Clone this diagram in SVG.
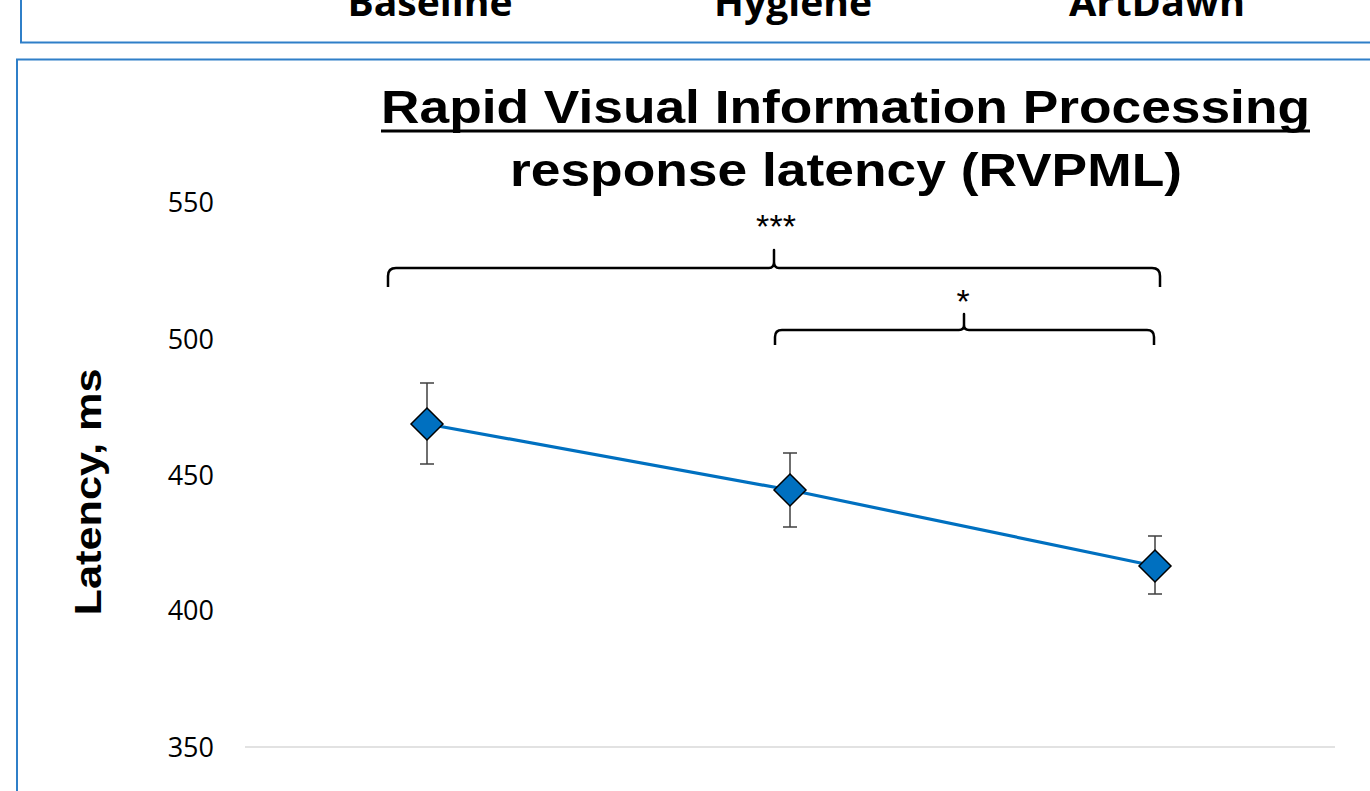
<svg xmlns="http://www.w3.org/2000/svg" width="1370" height="791" viewBox="0 0 1370 791">
<style>
.frame{fill:none;stroke:#2f7fc8;stroke-width:2}
.cat{font-family:"Open Sans","Liberation Sans",sans-serif;font-weight:bold;font-size:38px;fill:#000;text-anchor:middle}
.tick{font-family:"Open Sans","Liberation Sans",sans-serif;font-size:27px;fill:#000;text-anchor:end}
.title{font-family:"Liberation Sans",Arial,sans-serif;font-weight:bold;font-size:47px;fill:#000}
.ytitle{font-family:"Liberation Sans",Arial,sans-serif;font-weight:bold;font-size:36px;fill:#000;text-anchor:middle}
.sig{font-family:"Liberation Sans",Arial,sans-serif;font-size:34px;fill:#000;text-anchor:middle}
.brace{fill:none;stroke:#000;stroke-width:2.5;stroke-linejoin:round}
.err{stroke:#404040;stroke-width:1.5;fill:none}
.pt{fill:#0070c0;stroke:#000;stroke-width:1.5}
.grid{stroke:#d9d9d9;stroke-width:1.5}
</style>
<rect width="1370" height="791" fill="#fff"/>
<g id="top-panel">
<rect class="frame" x="21" y="-10" width="1360" height="52.5"/>
<text class="cat" x="430" y="16" textLength="165" lengthAdjust="spacingAndGlyphs">Baseline</text>
<text class="cat" x="793" y="16" textLength="158" lengthAdjust="spacingAndGlyphs">Hygiene</text>
<text class="cat" x="1157" y="16" textLength="176" lengthAdjust="spacingAndGlyphs">ArtDawn</text>
</g>
<g id="chart-panel">
<rect class="frame" x="17" y="59.5" width="1365" height="750"/>
</g>
<g id="title">
<text class="title" x="381" y="123" textLength="929" lengthAdjust="spacingAndGlyphs">Rapid Visual Information Processing</text>
<line x1="381" y1="131" x2="1310" y2="131" stroke="#000" stroke-width="3"/>
<text class="title" x="510" y="186" textLength="672" lengthAdjust="spacingAndGlyphs">response latency (RVPML)</text>
</g>
<g id="y-axis">
<text class="ytitle" transform="translate(101,492) rotate(-90)" textLength="247" lengthAdjust="spacingAndGlyphs">Latency, ms</text>
<text class="tick" x="214" y="212">550</text>
<text class="tick" x="214" y="349">500</text>
<text class="tick" x="214" y="485">450</text>
<text class="tick" x="214" y="620">400</text>
<text class="tick" x="214" y="757">350</text>
<line class="grid" x1="245" y1="747" x2="1335" y2="747"/>
</g>
<g id="connectors">
<polyline points="427,424 790,490 1155,566" fill="none" stroke="#0070c0" stroke-width="3.2"/>
<path class="brace" d="M388,287 L388,276 Q388,268 396,268 L769,268 Q774,268 774,262 L774,250 L774,262 Q774,268 779,268 L1152,268 Q1160,268 1160,276 L1160,287"/>
<path class="brace" d="M775,345 L775,337 Q775,330 782,330 L959,330 Q964,330 964,325 L964,314 L964,325 Q964,330 969,330 L1147,330 Q1154,330 1154,337 L1154,345"/>
</g>
<g id="sig-labels">
<text class="sig" x="776" y="238" textLength="40" lengthAdjust="spacing">***</text>
<text class="sig" x="963" y="313">*</text>
</g>
<g id="point-baseline">
<path class="err" d="M427,383 V464 M420,383 H434 M420,464 H434"/>
<polygon class="pt" points="427,408 443,424 427,440 411,424"/>
</g>
<g id="point-hygiene">
<path class="err" d="M790,453 V527 M783,453 H797 M783,527 H797"/>
<polygon class="pt" points="790,474 806,490 790,506 774,490"/>
</g>
<g id="point-artdawn">
<path class="err" d="M1155,536 V594 M1148,536 H1162 M1148,594 H1162"/>
<polygon class="pt" points="1155,550 1171,566 1155,582 1139,566"/>
</g>
</svg>
